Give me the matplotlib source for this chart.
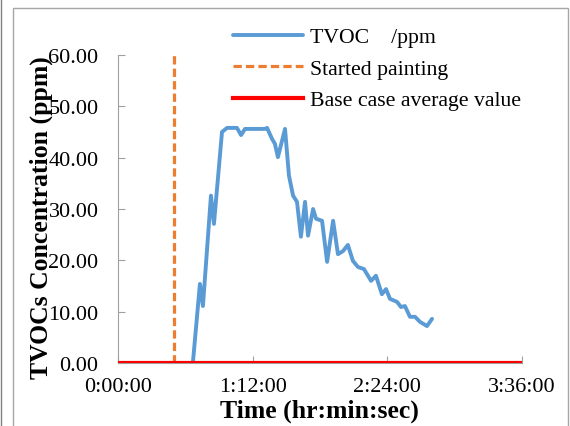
import matplotlib
matplotlib.use('Agg')
import matplotlib.pyplot as plt
from matplotlib.lines import Line2D
from matplotlib.patches import Rectangle

plt.rcParams['font.family'] = ['Liberation Serif', 'DejaVu Serif']

# elapsed time in minutes and measured TVOC (ppm)
t_min = [0, 39.6, 40.1, 43.8, 45.4, 49.7, 51.3, 55.6, 58.3, 63.6, 65.8, 67.9,
         78.6, 79.7, 82.3, 83.9, 85.5, 89.3, 91.4, 93.6, 95.7, 97.8, 100.0,
         101.6, 104.3, 105.9, 109.1, 111.8, 115.0, 117.6, 120.3, 122.9, 125.6,
         128.3, 131.5, 135.3, 137.9, 141.1, 143.3, 145.4, 149.2, 151.3, 153.4,
         156.1, 158.8, 161.5, 165.2, 167.9]
tvoc = [0, 0, 0.3, 15.4, 11.1, 32.6, 27.1, 45.0, 45.8, 45.8, 44.4, 45.6,
        45.6, 45.8, 43.7, 42.7, 40.1, 45.6, 36.5, 32.6, 31.4, 24.6, 31.4,
        24.8, 30.0, 28.1, 27.7, 19.7, 27.7, 21.2, 21.8, 23.0, 19.9,
        18.7, 18.3, 16.0, 17.0, 13.4, 14.4, 12.5, 11.9, 10.9, 11.1,
        9.0, 9.0, 8.0, 7.2, 8.6]

paint_start = 30.0       # minutes
base_avg = 0.0           # ppm
x_ticks = [0, 72, 144, 216]
x_tick_labels = ['0:00:00', '1:12:00', '2:24:00', '3:36:00']
y_ticks = [0, 10, 20, 30, 40, 50, 60]

fig = plt.figure(figsize=(5.7, 4.27), dpi=100)
ax = fig.add_axes([118/570, 63/427, 404/570, 308/427])

ax.plot(t_min, tvoc, color='#5B9BD5', lw=2.8, solid_joinstyle='round',
        solid_capstyle='round', label='TVOC    /ppm', zorder=3)
ax.plot([paint_start, paint_start], [0, 60], color='#ED7D31', lw=2.3,
        dashes=(2.6, 1.3), label='Started painting', zorder=4)
ax.plot([0, 216], [base_avg, base_avg], color='#FF0000', lw=3,
        label='Base case average value', zorder=5)

ax.set_xlim(0, 216)
ax.set_ylim(0, 60)
ax.set_xticks(x_ticks)
ax.set_xticklabels(x_tick_labels)
ax.set_yticks(y_ticks)
ax.set_yticklabels(['%.2f' % v for v in y_ticks])
ax.tick_params(axis='y', direction='in', length=5, color='#A0A0A0',
               labelsize=16, width=0.8, pad=14)
ax.tick_params(axis='x', direction='in', length=5, color='#A0A0A0',
               labelsize=16, width=0.8, pad=10)
for s in ['top', 'right']:
    ax.spines[s].set_visible(False)
for s in ['left', 'bottom']:
    ax.spines[s].set_color('#A0A0A0')

ax.set_xlabel('Time (hr:min:sec)', fontsize=18.5, fontweight='bold')
ax.set_ylabel('TVOCs Concentration (ppm)', fontsize=18.5, fontweight='bold')
ax.yaxis.set_label_coords((53 - 118) / 404, (427 - 218 - 63) / 308)
ax.xaxis.set_label_coords((319 - 118) / 404, (427 - 400 - 63) / 308)

ax.legend(loc='upper left', bbox_to_anchor=(233/570, 1 - 28/427),
          bbox_transform=fig.transFigure, frameon=False, fontsize=15.7,
          handlelength=3.2, handletextpad=0.35, labelspacing=0.52,
          borderaxespad=0, borderpad=0)

# chart area border
fig.add_artist(Rectangle((13/570, -0.1), 555/570, 1.1 - 9/427,
                         transform=fig.transFigure, fill=False,
                         edgecolor='#A6A6A6', lw=1))
fig.add_artist(Line2D([1/570, 1/570], [0, 1], transform=fig.transFigure,
                      color='#808080', lw=1))

fig.savefig('out.png', dpi=100)
